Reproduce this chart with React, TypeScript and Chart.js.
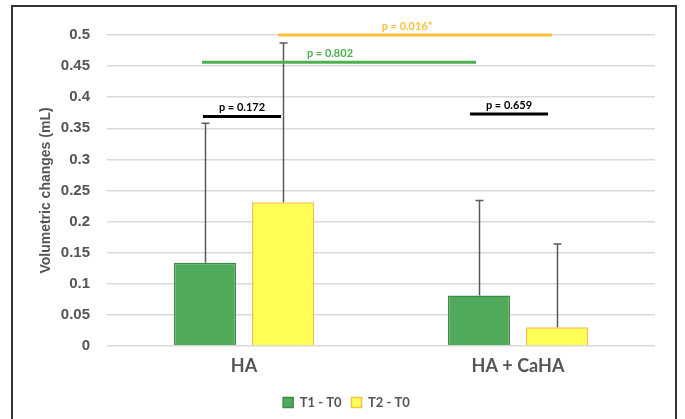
import React, { useEffect, useRef } from "react";
import { Chart, registerables } from "chart.js";

Chart.register(...registerables);

// Groups and series
const categories = ["HA", "HA + CaHA"];
const seriesNames = ["T1 - T0", "T2 - T0"];
const t1Means = [0.134, 0.081];
const t2Means = [0.231, 0.03];
const t1Sd = [0.224, 0.153];
const t2Sd = [0.256, 0.134];

// y-axis ticks
const yTicks = [0, 0.05, 0.1, 0.15, 0.2, 0.25, 0.3, 0.35, 0.4, 0.45, 0.5];

// Pairwise comparisons: [dataset, category] of each end, level, label
const pLabels = ["p = 0.172", "p = 0.802", "p = 0.016*", "p = 0.659"];
const pLevels = [0.369, 0.456, 0.5, 0.373];
const pFromBar = [[0, 0], [0, 0], [1, 0], [0, 1]];
const pToBar = [[1, 0], [0, 1], [1, 1], [1, 1]];

const GREEN = "#4faa5a";
const GREEN_EDGE = "#3f8a48";
const YELLOW = "#ffff55";
const YELLOW_EDGE = "#f6c143";
const GRAY_TEXT = "#555555";

const bracketColors = ["#000000", "#4caf50", "#f8c23a", "#000000"];
const bracketShift = [-2, -3, -5, -9];
const labelShift = [0, -9, -8, 0];

const errorBarPlugin = {
  id: "errorBars",
  afterDatasetsDraw(chart: any) {
    const ctx = chart.ctx;
    const y = chart.scales.y;
    const sds = [t1Sd, t2Sd];
    ctx.save();
    ctx.strokeStyle = "#595959";
    ctx.lineWidth = 1.5;
    chart.data.datasets.forEach((ds: any, di: number) => {
      const meta = chart.getDatasetMeta(di);
      meta.data.forEach((bar: any, i: number) => {
        const top = y.getPixelForValue(ds.data[i] + sds[di][i]);
        const base = y.getPixelForValue(ds.data[i]);
        const x = Math.round(bar.x) + 0.5;
        ctx.beginPath();
        ctx.moveTo(x, base);
        ctx.lineTo(x, top);
        ctx.moveTo(x - 4, top);
        ctx.lineTo(x + 4, top);
        ctx.stroke();
      });
    });
    ctx.restore();
  },
};

const bracketPlugin = {
  id: "pBrackets",
  afterDatasetsDraw(chart: any) {
    const ctx = chart.ctx;
    const y = chart.scales.y;
    ctx.save();
    pLabels.forEach((label, k) => {
      const a = chart.getDatasetMeta(pFromBar[k][0]).data[pFromBar[k][1]];
      const b = chart.getDatasetMeta(pToBar[k][0]).data[pToBar[k][1]];
      const x1 = a.x + bracketShift[k];
      const x2 = b.x + bracketShift[k];
      const yy = y.getPixelForValue(pLevels[k]);
      ctx.strokeStyle = bracketColors[k];
      ctx.lineWidth = 3;
      ctx.beginPath();
      ctx.moveTo(x1, yy);
      ctx.lineTo(x2, yy);
      ctx.stroke();
      ctx.fillStyle = bracketColors[k];
      ctx.font = "bold 11px Lato";
      ctx.textAlign = "center";
      ctx.textBaseline = "middle";
      ctx.fillText(label, (x1 + x2) / 2 + labelShift[k], yy - 9);
    });
    ctx.restore();
  },
};

export default function App() {
  const canvasRef = useRef<HTMLCanvasElement>(null);

  useEffect(() => {
    const chart = new Chart(canvasRef.current!, {
      type: "bar",
      data: {
        labels: categories,
        datasets: [
          {
            label: seriesNames[0],
            data: t1Means,
            backgroundColor: GREEN,
            borderColor: GREEN_EDGE,
            borderWidth: 1.5,
            categoryPercentage: 0.57,
            barPercentage: 0.795,
          },
          {
            label: seriesNames[1],
            data: t2Means,
            backgroundColor: YELLOW,
            borderColor: YELLOW_EDGE,
            borderWidth: 1.5,
            categoryPercentage: 0.57,
            barPercentage: 0.795,
          },
        ],
      },
      options: {
        responsive: false,
        animation: false,
        layout: { padding: { left: 38, right: 30, top: 35, bottom: 0 } },
        plugins: {
          tooltip: { enabled: false },
          legend: {
            position: "bottom",
            labels: {
              boxWidth: 10,
              boxHeight: 10,
              color: GRAY_TEXT,
              font: { family: "Lato", size: 13, weight: "bold" },
              padding: 10,
            },
          },
        },
        scales: {
          x: {
            grid: { display: false },
            border: { display: false },
            ticks: {
              color: GRAY_TEXT,
              font: { family: "Lato", size: 18, weight: "bold" },
              padding: 1,
            },
            afterFit(scale: any) {
              scale.height = 40;
            },
          },
          y: {
            min: 0,
            max: 0.5,
            afterBuildTicks(scale: any) {
              scale.ticks = yTicks.map((v) => ({ value: v }));
            },
            grid: { color: "#d9d9d9", lineWidth: 1.5, drawTicks: false },
            border: { display: false },
            ticks: {
              color: GRAY_TEXT,
              font: { family: "Liberation Sans", size: 15, weight: "bold" },
              padding: 17,
              callback: (v: any) => String(v),
            },
            title: {
              display: true,
              text: "Volumetric changes (mL)",
              color: GRAY_TEXT,
              font: { family: "Liberation Sans", size: 14, weight: "bold" },
              padding: { top: 0, bottom: 0 },
            },
            afterFit(scale: any) {
              scale.width = 69;
            },
          },
        },
      },
      plugins: [errorBarPlugin, bracketPlugin],
    } as any);
    return () => chart.destroy();
  }, []);

  return (
    <div
      style={{
        position: "fixed",
        left: 0,
        top: 0,
        width: 685,
        height: 419,
        overflow: "hidden",
        background: "#ffffff",
      }}
    >
      <div
        style={{
          position: "absolute",
          left: 11,
          top: 5,
          width: 662,
          height: 430,
          border: "2px solid #333333",
        }}
      />
      <canvas
        ref={canvasRef}
        width={685}
        height={419}
        style={{ position: "absolute", left: 0, top: 0 }}
      />
    </div>
  );
}
